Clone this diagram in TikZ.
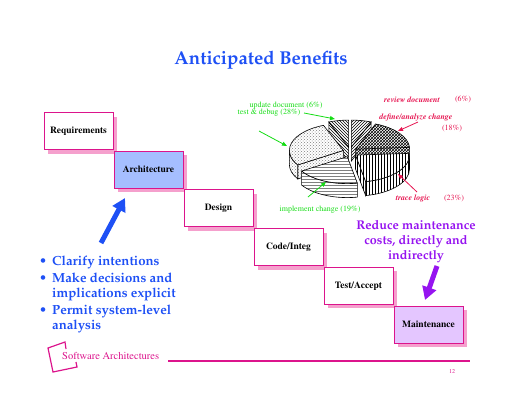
\documentclass[tikz,border=0pt]{standalone}
\usepackage[T1]{fontenc}
\usepackage{tikz}
\usetikzlibrary{positioning,arrows.meta,patterns,shadows}

\definecolor{mag}{RGB}{220,20,140}
\definecolor{shpink}{RGB}{245,160,205}
\definecolor{archblue}{RGB}{165,190,255}
\definecolor{mntlilac}{RGB}{228,198,255}
\definecolor{titleblue}{RGB}{30,80,245}
\definecolor{ppurple}{RGB}{150,20,240}
\definecolor{lblgreen}{RGB}{20,220,20}
\definecolor{lblred}{RGB}{230,20,80}

\newcommand{\pala}{\fontfamily{ppl}\selectfont}
\newcommand{\tms}{\fontfamily{ptm}\selectfont}

% pie pieces: top face, outer rim, radial cut
\newcommand{\pietop}[3]{\draw[face,#3] (0,0) -- (#1:54 and 27)
  arc[start angle=#1, end angle=#2, x radius=54, y radius=27] -- cycle;}
\newcommand{\pierim}[3]{\draw[face,#3] (#1:54 and 27)
  arc[start angle=#1, end angle=#2, x radius=54, y radius=27] -- ++(0,-14)
  arc[start angle=#2, end angle=#1, x radius=54, y radius=27] -- cycle;}
\newcommand{\piecut}[2]{\draw[face,#2] (0,0) -- (#1:54 and 27) -- ++(0,-14) -- (0,-14) -- cycle;}

\tikzset{
  stage/.style={draw=mag, line width=1pt, fill=white, inner sep=0pt,
    minimum width=69pt, minimum height=37pt,
    font=\tms\bfseries\fontsize{9.5}{11}\selectfont,
    drop shadow={shadow xshift=4pt, shadow yshift=-4pt, fill=shpink, opacity=1}},
  face/.style={draw=black, line width=0.6pt, preaction={fill=white}},
  gl/.style={text=lblgreen, inner sep=0pt, font=\tms\fontsize{8}{9}\selectfont},
  rl/.style={text=lblred, inner sep=0pt, font=\tms\bfseries\itshape\fontsize{8}{9}\selectfont},
  rp/.style={text=lblred, inner sep=0pt, font=\tms\fontsize{8}{9}\selectfont},
  thin arrow/.style={-{Triangle[length=5pt,width=4pt]}, line width=0.8pt},
  big arrow/.style={-{Triangle[length=13pt,width=14pt]}, line width=5pt},
}

\begin{document}
\begin{tikzpicture}[x=1pt,y=-1pt]
  \useasboundingbox (0,0) rectangle (520,402);

  \node[text=titleblue, font=\pala\bfseries\fontsize{18.6}{21}\selectfont] (ttl) at (261,60) {Anticipated Benefits};

  % waterfall
  \node[stage] (req) at (78.5,131) {Requirements};
  \node[stage, fill=archblue, below right=0.7pt and 0pt of req] (arch) {Architecture};
  \node[stage, below right=0.7pt and 0pt of arch] (des) {Design};
  \node[stage, below right=0.7pt and 0pt of des] (code) {Code/Integ};
  \node[stage, below right=0.7pt and 0pt of code] (test) {Test/Accept};
  \node[stage, fill=mntlilac, below right=0.7pt and 0pt of test] (maint) {Maintenance};

  % pie
  \begin{scope}[shift={(350,152)}, yscale=-1]
    \begin{scope}[shift={(79.2:7 and 5)}]
      \piecut{68.4}{pattern=north east lines}
      \pietop{68.4}{90}{pattern=north east lines}
    \end{scope}
    \begin{scope}[shift={(100.8:7 and 5)}]
      \piecut{111.6}{pattern=north west lines}
      \pietop{90}{111.6}{pattern=north west lines}
    \end{scope}
    \begin{scope}[shift={(36:7 and 5)}]
      \piecut{3.6}{pattern=crosshatch}
      \pietop{3.6}{68.4}{pattern=crosshatch}
    \end{scope}
    \begin{scope}[shift={(162:7 and 5)}]
      \piecut{212.4}{pattern=crosshatch dots, pattern color=gray}
      \pierim{180}{212.4}{pattern=crosshatch dots, pattern color=gray}
      \pietop{111.6}{212.4}{pattern=crosshatch dots, pattern color=gray}
    \end{scope}
    \begin{scope}[shift={(322.2:7 and 5)}]
      \piecut{280.8}{pattern=vertical lines}
      \pierim{280.8}{360}{pattern=vertical lines}
      \pietop{280.8}{363.6}{pattern=vertical lines}
    \end{scope}
    \begin{scope}[shift={(246.6:7 and 5)}]
      \pierim{212.4}{280.8}{pattern=horizontal lines, pattern color=gray}
      \pietop{212.4}{280.8}{pattern=horizontal lines, pattern color=gray}
    \end{scope}
  \end{scope}

  % pie labels
  \node[rl] (rev) at (412,100) {review document};
  \node[rp] (revp) at (463,100) {(6\%)};
  \node[rl] (def) at (416,118) {define/analyze change};
  \node[rp] (defp) at (452,129) {(18\%)};
  \node[rl] (trc) at (413,199) {trace logic};
  \node[rp] (trcp) at (454,199) {(23\%)};
  \node[gl] (imp) at (320,210) {implement change (19\%)};
  \node[gl] (upd) at (286,106) {update document (6\%)};
  \node[gl] (tst) at (269,113) {test \& debug (28\%)};

  \coordinate (updA) at (304,113); \coordinate (updB) at (335,119);
  \coordinate (tstA) at (259,131); \coordinate (tstB) at (287,146);
  \coordinate (impA) at (308,197); \coordinate (impB) at (326,182);
  \coordinate (defA) at (418,122); \coordinate (defB) at (398,131);
  \coordinate (trcA) at (417,192); \coordinate (trcB) at (398,174);
  \draw[thin arrow, lblgreen] (updA) -- (updB);
  \draw[thin arrow, lblgreen] (tstA) -- (tstB);
  \draw[thin arrow, lblgreen] (impA) -- (impB);
  \draw[thin arrow, lblred] (defA) -- (defB);
  \draw[thin arrow, lblred] (trcA) -- (trcB);

  % benefits
  \node[text=titleblue, inner sep=0pt, anchor=north west,
    font=\pala\bfseries\fontsize{13.2}{15}\selectfont] (pts) at (39,255) {%
    \begin{tabular}{@{}l@{\hspace{5pt}}l@{}}
      \textbullet & Clarify intentions\\[2pt]
      \textbullet & Make decisions and\\
                  & implications explicit\\[2pt]
      \textbullet & Permit system-level\\
                  & analysis
    \end{tabular}};
  \coordinate (blueA) at (101,243);
  \coordinate (blueB) at (125,198);
  \draw[big arrow, titleblue] (blueA) -- (blueB);

  \node[text=ppurple, align=center, font=\pala\bfseries\fontsize{12.6}{15}\selectfont] (cut) at (416,242)
    {Reduce maintenance\\costs, directly and\\indirectly};
  \coordinate (purA) at (437,266);
  \coordinate (purB) at (425,300);
  \draw[big arrow, ppurple] (purA) -- (purB);

  % footer
  \draw[mag, line width=1.2pt] (66,349) -- (65,342) -- (48,348) -- (53,372) -- (77,367) -- (76,362);
  \node[text=mag, anchor=west, inner sep=0pt, font=\tms\fontsize{10.5}{12}\selectfont] (sa) at (62,356) {Software Architectures};
  \draw[mag, line width=2.2pt] (168,361) -- (470,361);
  \node[text=mag, font=\tms\fontsize{6}{7}\selectfont] (pg) at (452,371) {12};
\end{tikzpicture}
\end{document}
